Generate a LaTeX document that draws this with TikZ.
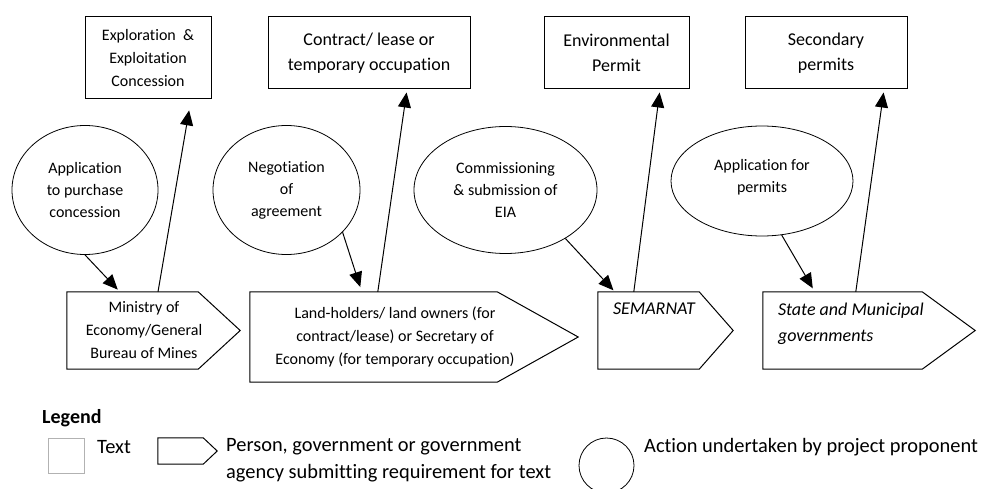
\documentclass[tikz,border=0pt]{standalone}
\usepackage{fontspec}
\setmainfont[Ligatures=NoCommon]{Carlito}
\usetikzlibrary{shapes.geometric}
\usetikzlibrary{arrows.meta}

\tikzset{
  permit/.style={draw, rectangle, line width=1pt, align=center, inner sep=2pt},
  bigtext/.style={font=\fontsize{18}{25}\selectfont},
  action/.style={draw, ellipse, line width=0.8pt, align=center, inner sep=0pt},
  agency/.style={rectangle, align=center, inner sep=0pt, font=\fontsize{16}{23}\selectfont},
  agencyline/.style={line width=1pt, line join=miter},
  labeltop/.style={anchor=north west, inner sep=0pt, xshift=15pt, yshift=-11pt, align=left, font=\fontsize{18}{26}\selectfont\itshape},
  flow/.style={line width=1pt, -{Triangle[length=15pt,width=13pt]}},
  legendtext/.style={inner sep=0pt, font=\fontsize{20.4}{27}\selectfont},
}

\begin{document}
\begin{tikzpicture}[x=1pt, y=-1pt, font=\fontsize{16}{22}\selectfont]
\path[use as bounding box, fill=white] (0,0) rectangle (982,489);

% texts obtained
\node[permit, minimum width=126, minimum height=82, font=\fontsize{16}{23}\selectfont] (exploit) at (148,58) {Exploration \ \&\\Exploitation\\Concession};
\node[permit, bigtext, minimum width=202, minimum height=72] (contract) at (369,53) {Contract/ lease or\\temporary occupation};
\node[permit, bigtext, minimum width=145, minimum height=72] (envperm) at (616.5,53) {Environmental\\Permit};
\node[permit, bigtext, minimum width=162, minimum height=72] (secperm) at (826,53) {Secondary\\permits};

% actions of the proponent
\node[action, minimum width=146, minimum height=129] (purchase) at (85,190) {Application\\to purchase\\concession};
\node[action, minimum width=147, minimum height=129] (negotiate) at (286.5,190) {Negotiation\\of\\agreement};
\node[action, minimum width=183, minimum height=127] (eia) at (505.5,190) {Commissioning\\\& submission of\\EIA};
\node[action, minimum width=182, minimum height=110] (applyperm) at (762,181) {Application for\\permits\\[-12pt]\mbox{}};

% agencies
\node[agency, minimum width=154, minimum height=77] (mines) at (144,330.5) {Ministry of\\Economy/General\\Bureau of Mines};
\draw[agencyline] (mines.north west) -- ([xshift=-23pt]mines.north east) -- ([xshift=19pt]mines.east) -- ([xshift=-23pt]mines.south east) -- (mines.south west) -- cycle;
\node[agency, minimum width=290, minimum height=90] (owners) at (395,337) {Land-holders/ land owners (for\\contract/lease) or Secretary of\\Economy (for temporary occupation)};
\draw[agencyline] (owners.north west) -- ([xshift=-43pt]owners.north east) -- ([xshift=38pt]owners.east) -- ([xshift=-43pt]owners.south east) -- (owners.south west) -- cycle;
\node[agency, minimum width=101, minimum height=77, label={[labeltop]north west:{SEMARNAT}}] (semarnat) at (648.5,330.5) {};
\draw[agencyline] (semarnat.north west) -- (semarnat.north east) -- ([xshift=34pt]semarnat.east) -- (semarnat.south east) -- (semarnat.south west) -- cycle;
\node[agency, minimum width=159, minimum height=77, label={[labeltop]north west:{State and Municipal\\governments}}] (states) at (842.5,330.5) {};
\draw[agencyline] (states.north west) -- (states.north east) -- ([xshift=53pt]states.east) -- (states.south east) -- (states.south west) -- cycle;

% flows
\draw[flow, shorten >=3pt] (purchase.south) -- ([xshift=53pt]mines.north west);
\draw[flow, shorten >=11pt] ([xshift=14pt]mines.north) -- ([xshift=43pt]exploit.south);
\draw[flow, shorten >=5pt] (negotiate.-37) -- ([xshift=112pt]owners.north west);
\draw[flow, shorten >=3pt] ([xshift=128pt]owners.north west) -- ([xshift=38pt]contract.south);
\draw[flow, shorten >=2pt] (eia.-39) -- ([xshift=17pt]semarnat.north west);
\draw[flow, shorten >=3pt] ([xshift=36pt]semarnat.north west) -- ([xshift=43.5pt]envperm.south);
\draw[flow, shorten >=4pt] (applyperm.-70) -- ([xshift=52pt]states.north west);
\draw[flow, shorten >=3pt] ([xshift=93pt]states.north west) -- ([xshift=58pt]secperm.south);

% legend
\node[anchor=west, inner sep=0pt, font=\fontsize{20}{24}\selectfont\bfseries] (legend) at (42,418) {Legend};
\node[draw=gray!60, line width=0.8pt, minimum width=36, minimum height=35, inner sep=0pt] (legtext) at (66,455.5) {};
\node[legendtext, anchor=west] (legtextlbl) at (97,447) {Text};
\node[agency, minimum width=45, minimum height=26] (legagency) at (180.5,451) {};
\draw[agencyline] (legagency.north west) -- (legagency.north east) -- ([xshift=14pt]legagency.east) -- (legagency.south east) -- (legagency.south west) -- cycle;
\node[legendtext, anchor=west, align=left] (legagencylbl) at (226,460.5) {Person, government or government\\agency submitting requirement for text};
\node[draw, circle, line width=0.8pt, minimum size=55, inner sep=0pt] (legaction) at (606.5,465.5) {};
\node[legendtext, anchor=west] (legactionlbl) at (644,447) {Action undertaken by project proponent};

\end{tikzpicture}
\end{document}
